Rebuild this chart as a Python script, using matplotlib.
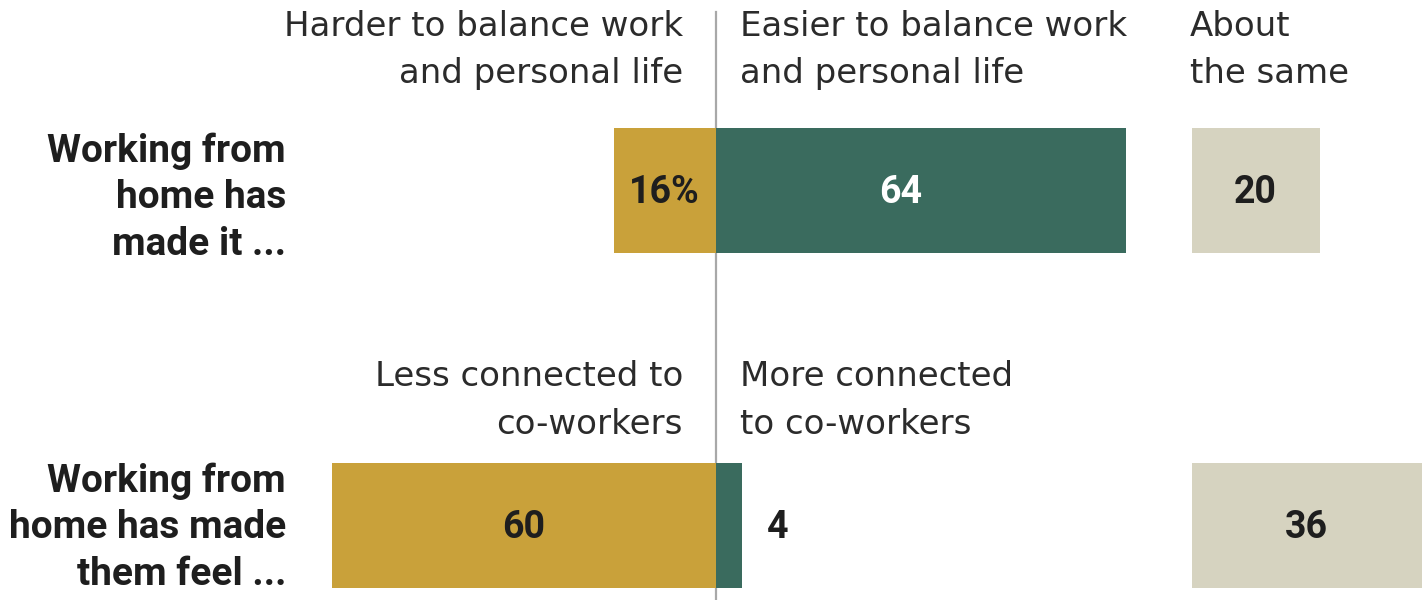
import matplotlib
matplotlib.use("Agg")
import matplotlib.pyplot as plt

# Survey results (percent)
rows = ["balance", "connection"]
negative = [16, 60]    # Harder to balance / Less connected
positive = [64, 4]     # Easier to balance / More connected
same = [20, 36]        # About the same

row_labels = [
    ["Working from", "home has", "made it ..."],
    ["Working from", "home has made", "them feel ..."],
]
neg_headers = [
    ["Harder to balance work", "and personal life"],
    ["Less connected to", "co-workers"],
]
pos_headers = [
    ["Easier to balance work", "and personal life"],
    ["More connected", "to co-workers"],
]
same_header = ["About", "the same"]

GOLD = "#C9A13A"
GREEN = "#3A6B5E"
BEIGE = "#D6D3C0"
DARK = "#1e1e1e"
HEAD = "#2b2b2b"

W, H = 1425, 600
fig = plt.figure(figsize=(W / 100, H / 100), dpi=100)
ax = fig.add_axes([0, 0, 1, 1])

# horizontal scale: pixels per percentage point, zero line position
ppu = 6.4
zero_px = 716
ax.set_xlim(-zero_px / ppu, (W - zero_px) / ppu)
ax.set_ylim(H, 0)
ax.axis("off")

row_y = [190.5, 525.5]
bar_h = 125
same_left = 74.3

# zero line
ax.plot([0, 0], [12, H], color="#a8a8a8", lw=1.6, zorder=1)

hfont = dict(family="DejaVu Sans", fontsize=24.5, color=HEAD)
bfont = dict(family="Roboto", fontweight="bold", fontsize=28, color=DARK)
vfont = dict(family="Roboto", fontweight="bold", fontsize=27)

def px(x_pixel):
    return (x_pixel - zero_px) / ppu

def lines(x, baselines, texts, ha, style):
    for b, t in zip(baselines, texts):
        ax.text(x, b, t, ha=ha, va="baseline", **style)

header_base = [[36, 83], [386, 434]]
label_base = [[162, 208, 255], [492, 538, 585]]

for i in range(len(rows)):
    y = row_y[i]
    ax.barh(y, -negative[i], left=0, height=bar_h, color=GOLD, zorder=2)
    ax.barh(y, positive[i], left=0, height=bar_h, color=GREEN, zorder=2)
    ax.barh(y, same[i], left=same_left, height=bar_h, color=BEIGE, zorder=2)

    tb = y + 12.5
    neg_txt = f"{negative[i]}%" if i == 0 else f"{negative[i]}"
    ax.text(-negative[i] / 2, tb, neg_txt, ha="center", va="baseline",
            color=DARK, **vfont, zorder=3)
    if positive[i] >= 10:
        ax.text(positive[i] * 0.45, tb, f"{positive[i]}", ha="center",
                va="baseline", color="white", **vfont, zorder=3)
    else:
        ax.text(positive[i] + 4, tb, f"{positive[i]}", ha="left",
                va="baseline", color=DARK, **vfont, zorder=3)
    ax.text(same_left + same[i] / 2, tb, f"{same[i]}", ha="center",
            va="baseline", color=DARK, **vfont, zorder=3)

    lines(px(683), header_base[i], neg_headers[i], "right", hfont)
    lines(px(740), header_base[i], pos_headers[i], "left", hfont)
    lines(px(286), label_base[i], row_labels[i], "right", bfont)

lines(px(1190), header_base[0], same_header, "left", hfont)

fig.savefig("out.png", dpi=100, facecolor="white")
